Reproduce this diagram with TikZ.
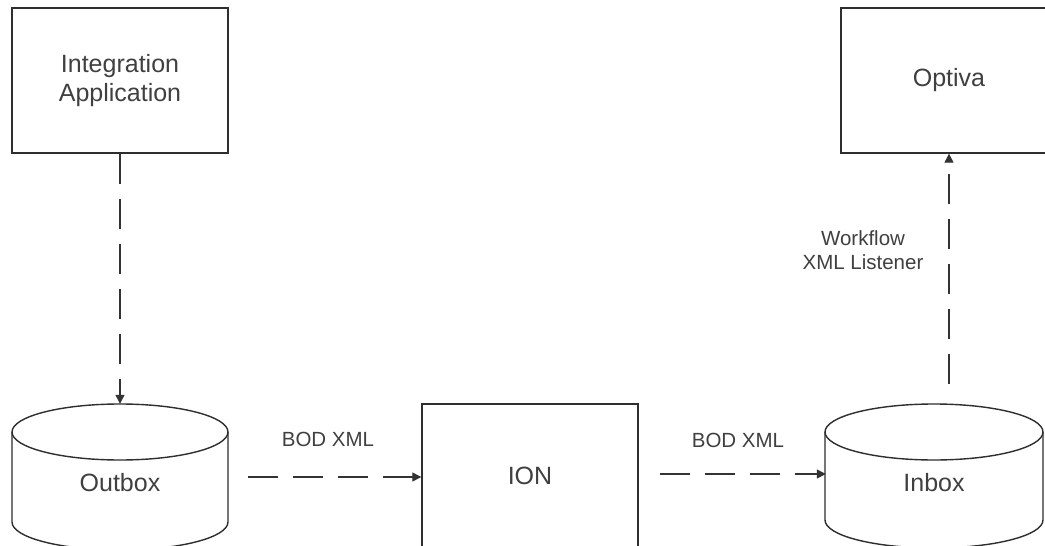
\documentclass[tikz,border=0pt]{standalone}
\usepackage{fontspec}
\setmainfont{Liberation Sans}
\usetikzlibrary{arrows.meta}
\definecolor{edge}{HTML}{2E2E2E}
\definecolor{txt}{HTML}{404040}
\definecolor{dashc}{HTML}{333333}
\tikzset{
  box/.style={draw=edge, line width=1.4pt, minimum width=216pt, minimum height=145pt, inner sep=0pt,
    text=txt, font=\fontsize{25}{29}\selectfont, align=center},
  holder/.style={minimum width=216pt, minimum height=146pt, inner sep=0pt},
  cyltext/.style={text=txt, font=\fontsize{25}{29}\selectfont},
  lbl/.style={text=txt, font=\fontsize{20.5}{24}\selectfont, align=center},
  flow/.style={draw=dashc, line width=1.3pt, dash pattern=on 30pt off 15pt,
    -{Triangle[length=9pt,width=9pt]}},
  cyl/.style={draw=edge, line width=1.4pt}
}
\begin{document}
\begin{tikzpicture}[x=1pt,y=-1pt]
\useasboundingbox (0,0) rectangle (1045,546);
\clip (0,0) rectangle (1045,546);
\fill[white] (0,0) rectangle (1045,546);

% rectangles
\node[box] (intapp) at (120,80.5) {Integration\\Application};
\node[box] (optiva) at (949,80.5) {Optiva};
\node[box, minimum height=144pt] (ion) at (530,476) {ION};

% cylinders (name holders)
\node[holder] (outbox) at (120,477) {};
\node[holder] (inbox) at (934,477) {};

% Outbox cylinder
\draw[cyl] (120,432) ellipse [x radius=108pt, y radius=28pt];
\draw[cyl] (12,432) -- (12,522) arc[start angle=180, end angle=360, x radius=108pt, y radius=28pt] -- (228,432);
\node[cyltext] (outboxt) at (120,483) {Outbox};

% Inbox cylinder
\draw[cyl] (934,432) ellipse [x radius=109pt, y radius=28pt];
\draw[cyl] (825,432) -- (825,520) arc[start angle=180, end angle=360, x radius=109pt, y radius=28pt] -- (1043,432);
\node[cyltext] (inboxt) at (934,483) {Inbox};

% connectors
\draw[flow] (intapp.south) -- (outbox.north);
\draw[flow, shorten <=20pt] (outbox.east) -- (ion.west |- outbox.east);
\draw[flow, shorten <=21pt] (ion.east) ++(0,-2) coordinate (ionout) -- (inbox.west |- ionout);
\draw[flow, shorten <=20pt] (inbox.north -| optiva.south) -- (optiva.south);

% labels
\node[lbl] (bod1) at (328,439) {BOD XML};
\node[lbl] (bod2) at (738,440) {BOD XML};
\node[lbl] (wf) at (863,250) {Workflow\\XML Listener};
\end{tikzpicture}
\end{document}
